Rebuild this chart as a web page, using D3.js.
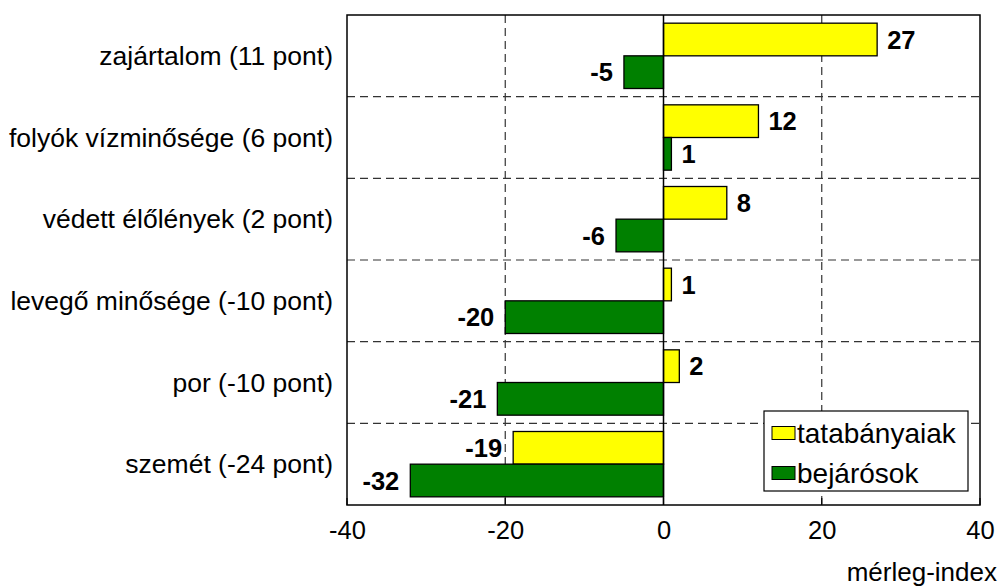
<!DOCTYPE html>
<html lang="hu">
<head>
<meta charset="utf-8">
<style>
    body { margin: 0; background: #fff; }
    svg { display: block; font-family: "Liberation Sans", Arial, sans-serif; }
    .grid line { stroke: #333; stroke-dasharray: 8,5; stroke-width: 1.2; }
    .bar { stroke: #000; stroke-width: 1.3; }
</style>
</head>
<body>
<svg id="mainSVG" width="1000" height="588"></svg>
<script src="https://cdn.jsdelivr.net/npm/d3@7"></script>
<script>

    var categories = ["zajártalom (11 pont)", "folyók vízminősége (6 pont)", "védett élőlények (2 pont)",
        "levegő minősége (-10 pont)", "por (-10 pont)", "szemét (-24 pont)"];
    var seriesNames = ["tatabányaiak", "bejárósok"];
    var tatabanyaiak = [27, 12, 8, 1, 2, -19];
    var bejarosok = [-5, 1, -6, -20, -21, -32];
    var seriesColors = ["#ffff00", "#008000"];
    var xTicks = [-40, -20, 0, 20, 40];
    var axisTitle = "mérleg-index";

    var svg = d3.select("svg");
    var pLeft = 347, pRight = 980, pTop = 15, pBottom = 505;

    var x = d3.scaleLinear().domain([-40, 40]).range([pLeft, pRight]);
    var y = d3.scaleBand().domain(categories).range([pTop, pBottom]).paddingInner(0).paddingOuter(0);
    var y1 = d3.scaleBand().domain(seriesNames).range([0, y.bandwidth()]).paddingInner(0).paddingOuter(0.25);

    var rows = categories.map(function (c, i) {
        return { cat: c, vals: [tatabanyaiak[i], bejarosok[i]] };
    });

    // grid: vertical dashed at -20 / 20, horizontal between categories
    var grid = svg.append("g").attr("class", "grid");
    grid.selectAll(".v").data([-20, 20]).enter().append("line")
        .attr("x1", function (d) { return x(d); }).attr("x2", function (d) { return x(d); })
        .attr("y1", pTop).attr("y2", pBottom);
    grid.selectAll(".h").data(categories.slice(1)).enter().append("line")
        .attr("x1", pLeft).attr("x2", pRight)
        .attr("y1", function (d) { return y(d); }).attr("y2", function (d) { return y(d); });

    // inner ticks at the bottom
    svg.append("g").selectAll("line").data(xTicks).enter().append("line")
        .attr("x1", function (d) { return x(d); }).attr("x2", function (d) { return x(d); })
        .attr("y1", pBottom).attr("y2", pBottom - 7)
        .attr("stroke", "#000").attr("stroke-width", 1.2);

    // bars
    var g = svg.append("g").selectAll("g").data(rows).enter().append("g")
        .attr("transform", function (d) { return "translate(0," + y(d.cat) + ")"; });

    g.selectAll("rect").data(function (d) { return d.vals; }).enter().append("rect")
        .attr("class", "bar")
        .attr("x", function (d) { return x(Math.min(0, d)); })
        .attr("width", function (d) { return Math.abs(x(d) - x(0)); })
        .attr("y", function (d, i) { return y1(seriesNames[i]); })
        .attr("height", y1.bandwidth())
        .attr("fill", function (d, i) { return seriesColors[i]; });

    g.selectAll("text").data(function (d) { return d.vals; }).enter().append("text")
        .attr("x", function (d) { return d >= 0 ? x(d) + 10 : x(d) - 11; })
        .attr("y", function (d, i) { return y1(seriesNames[i]) + y1.bandwidth() / 2; })
        .attr("dy", "0.36em")
        .attr("text-anchor", function (d) { return d >= 0 ? "start" : "end"; })
        .attr("font-weight", "bold")
        .attr("font-size", 25.5)
        .text(function (d) { return d; });

    // zero line
    svg.append("line")
        .attr("x1", x(0)).attr("x2", x(0)).attr("y1", pTop).attr("y2", pBottom)
        .attr("stroke", "#000").attr("stroke-width", 1.5);

    // frame
    svg.append("rect")
        .attr("x", pLeft).attr("y", pTop).attr("width", pRight - pLeft).attr("height", pBottom - pTop)
        .attr("fill", "none").attr("stroke", "#000").attr("stroke-width", 1.5);

    // category labels
    svg.append("g").selectAll("text").data(categories).enter().append("text")
        .attr("x", 333)
        .attr("y", function (d) { return y(d) + y.bandwidth() / 2; })
        .attr("dy", "0.35em")
        .attr("text-anchor", "end")
        .attr("font-size", 26.5)
        .text(function (d) { return d; });

    // x axis labels
    var xAxis = svg.append("g")
        .attr("transform", "translate(0," + pBottom + ")")
        .call(d3.axisBottom(x).tickValues(xTicks).tickSize(0).tickPadding(16)
            .tickFormat(function (d) { return String(d); }));
    xAxis.select(".domain").remove();
    xAxis.selectAll("text").attr("font-size", 25.5).attr("font-family", "Liberation Sans, Arial, sans-serif")
        .attr("fill", "#000");

    svg.append("text")
        .attr("x", 997).attr("y", 581)
        .attr("text-anchor", "end")
        .attr("font-size", 26)
        .text(axisTitle);

    // legend
    var legend = svg.append("g");
    legend.append("rect")
        .attr("x", 764).attr("y", 411).attr("width", 204).attr("height", 80)
        .attr("fill", "#fff").attr("stroke", "#000").attr("stroke-width", 1.2);
    var li = legend.selectAll(".item").data(seriesNames).enter().append("g")
        .attr("transform", function (d, i) { return "translate(772," + (433 + i * 40) + ")"; });
    li.append("rect")
        .attr("x", 0).attr("y", -6.5).attr("width", 23).attr("height", 13)
        .attr("fill", function (d, i) { return seriesColors[i]; })
        .attr("stroke", "#000").attr("stroke-width", 1);
    li.append("text")
        .attr("x", 25).attr("y", 0).attr("dy", "0.36em")
        .attr("font-size", 28)
        .text(function (d) { return d; });

</script>
</body>
</html>
